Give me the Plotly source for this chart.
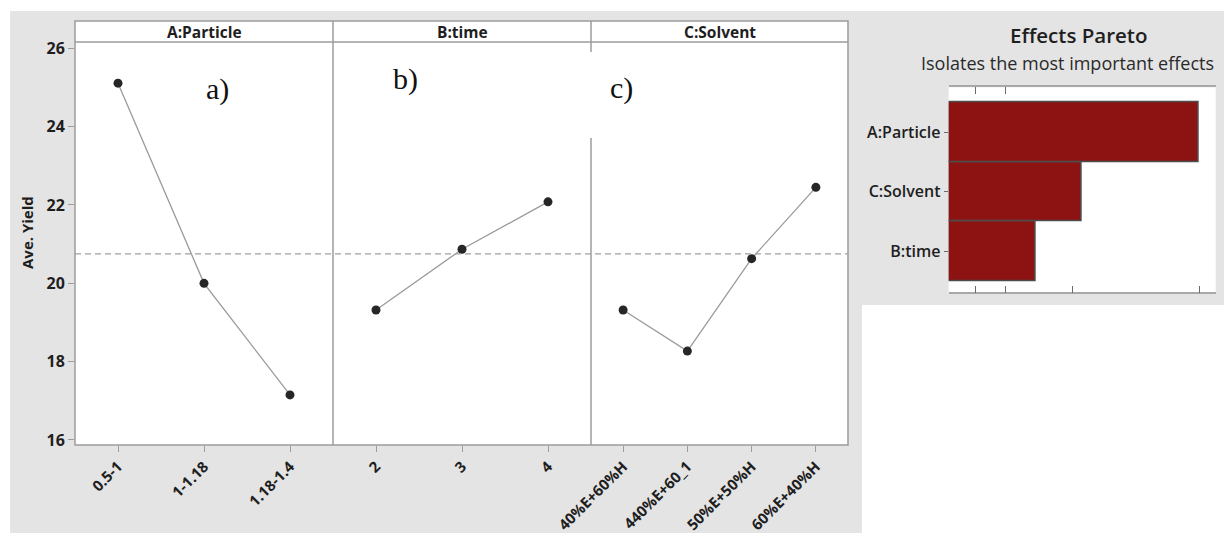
import plotly.graph_objects as go

# Main effects data (mean yield per factor level)
particle_levels = ["0.5-1", "1-1.18", "1.18-1.4"]
particle_yield = [25.11, 20.00, 17.15]
time_levels = ["2", "3", "4"]
time_yield = [19.32, 20.87, 22.08]
solvent_levels = ["40%E+60%H", "440%E+60_1", "50%E+50%H", "60%E+40%H"]
solvent_yield = [19.32, 18.27, 20.63, 22.45]
overall_mean = 20.75
y_ticks = [16, 18, 20, 22, 24, 26]
panel_titles = ["A:Particle", "B:time", "C:Solvent"]
panel_tags = ["a)", "b)", "c)"]

# Pareto of effects
pareto_terms = ["B:time", "C:Solvent", "A:Particle"]
pareto_effects = [3.26, 4.98, 9.37]
pareto_ticks = [1.02, 2.12, 4.64, 9.41]

W, H = 1224, 533


def px(x):
    return x / W


def py(y):
    return 1 - y / H


GRID = "#9c9c9c"
INK = "#1e1e1e"
BG = "#e4e4e4"
LABEL_FONT = dict(family="Open Sans", size=15, color=INK, weight="bold")

fig = go.Figure()

panels = [
    (particle_levels, particle_yield, "x", "y"),
    (time_levels, time_yield, "x2", "y2"),
    (solvent_levels, solvent_yield, "x3", "y3"),
]
for levels, values, xa, ya in panels:
    fig.add_trace(go.Scatter(
        x=list(range(len(levels))), y=values, xaxis=xa, yaxis=ya,
        mode="lines+markers",
        line=dict(color="#9a9a9a", width=1.3),
        marker=dict(size=9, color="#262626"),
        showlegend=False, hoverinfo="skip",
    ))

fig.add_trace(go.Bar(
    x=pareto_effects, y=pareto_terms, orientation="h",
    xaxis="x4", yaxis="y4",
    marker=dict(color="#8d1313", line=dict(color="#4d4d4d", width=1.5)),
    showlegend=False, hoverinfo="skip",
))
# invisible trace to carry the top tick marks of the pareto frame
fig.add_trace(go.Scatter(
    x=[pareto_ticks[0]], y=[pareto_terms[0]], xaxis="x5", yaxis="y4",
    mode="markers", marker=dict(opacity=0), showlegend=False, hoverinfo="skip",
))

left, right, top_hdr, hdr_bot, bottom = 75, 848, 21, 42, 445
dividers = [333, 591]
edges = [left] + dividers + [right]

y_range = [15.872, 26.161]

layout = dict(
    width=W, height=H,
    margin=dict(l=0, r=0, t=0, b=0, autoexpand=False),
    paper_bgcolor="white", plot_bgcolor="white",
    bargap=0,
)

for i, (levels, _, xa, ya) in enumerate(panels):
    xk = "xaxis" if i == 0 else f"xaxis{i + 1}"
    yk = "yaxis" if i == 0 else f"yaxis{i + 1}"
    layout[xk] = dict(
        domain=[px(edges[i]), px(edges[i + 1])],
        range=[-0.5, len(levels) - 0.5],
        tickmode="array", tickvals=list(range(len(levels))), ticktext=levels,
        tickangle=-45, ticks="outside", ticklen=6, tickcolor=GRID,
        tickfont=LABEL_FONT, showgrid=False, zeroline=False, showline=False,
        anchor=ya, fixedrange=True, automargin=False,
    )
    layout[yk] = dict(
        domain=[py(bottom), py(hdr_bot)], range=y_range,
        showgrid=False, zeroline=False, showline=False,
        anchor=xa, fixedrange=True, automargin=False,
        showticklabels=(i == 0),
        ticks="outside" if i == 0 else "",
        tickvals=y_ticks, ticklen=6, tickcolor=GRID,
        tickfont=dict(family="Open Sans", size=16, color=INK, weight="bold"),
    )

p_left, p_right, p_top, p_bot = 948.7, 1215.7, 87.3, 292.3
layout["xaxis4"] = dict(
    domain=[px(p_left), px(p_right)], range=[0, 10], anchor="y4",
    tickvals=pareto_ticks, showticklabels=False, ticks="inside", ticklen=7,
    tickcolor="#6a6a6a", showgrid=False, zeroline=False,
    showline=True, linecolor="#a8a8a8", linewidth=1.5, mirror=True,
    fixedrange=True, automargin=False,
)
layout["xaxis5"] = dict(
    overlaying="x4", side="top", range=[0, 10], anchor="y4",
    tickvals=pareto_ticks[:2], showticklabels=False, ticks="inside", ticklen=7,
    tickcolor="#6a6a6a", showgrid=False, zeroline=False, showline=False,
    fixedrange=True, automargin=False,
)
layout["yaxis4"] = dict(
    domain=[py(p_bot), py(p_top)], range=[-0.69, 2.76], anchor="x4",
    ticks="outside", ticklen=4, tickcolor="#6a6a6a",
    tickfont=dict(family="Open Sans", size=16, color=INK, weight=600),
    showgrid=False, zeroline=False, fixedrange=True, automargin=False,
    categoryorder="array", categoryarray=pareto_terms,
)

shapes = [
    # panel backgrounds
    dict(type="rect", xref="paper", yref="paper", layer="below",
         x0=px(10), x1=px(862), y0=py(533), y1=py(11),
         fillcolor=BG, line=dict(width=0)),
    dict(type="rect", xref="paper", yref="paper", layer="below",
         x0=px(862), x1=px(1224), y0=py(305), y1=py(11),
         fillcolor=BG, line=dict(width=0)),
    # white plotting areas (header strip included)
    dict(type="rect", xref="paper", yref="paper", layer="below",
         x0=px(left), x1=px(right), y0=py(bottom), y1=py(top_hdr),
         fillcolor="white", line=dict(width=0)),
    dict(type="rect", xref="paper", yref="paper", layer="below",
         x0=px(p_left), x1=px(p_right), y0=py(p_bot), y1=py(p_top),
         fillcolor="white", line=dict(width=0)),
]
frame = dict(color=GRID, width=1.5)
shapes += [
    dict(type="rect", xref="paper", yref="paper",
         x0=px(left), x1=px(right), y0=py(bottom), y1=py(top_hdr), line=frame),
    dict(type="line", xref="paper", yref="paper",
         x0=px(left), x1=px(right), y0=py(hdr_bot), y1=py(hdr_bot), line=frame),
    dict(type="line", xref="paper", yref="paper",
         x0=px(333), x1=px(333), y0=py(bottom), y1=py(top_hdr), line=frame),
    dict(type="line", xref="paper", yref="paper",
         x0=px(591), x1=px(591), y0=py(52), y1=py(top_hdr), line=frame),
    dict(type="line", xref="paper", yref="paper",
         x0=px(591), x1=px(591), y0=py(bottom), y1=py(138), line=frame),
]
# overall mean reference line across all panels
shapes.append(dict(type="line", xref="paper", yref="y",
                   x0=px(left), x1=px(right), y0=overall_mean, y1=overall_mean,
                   line=dict(color="#a0a0a0", width=1.3, dash="6px,4px")))
layout["shapes"] = shapes

annotations = []
for i, title in enumerate(panel_titles):
    annotations.append(dict(
        xref="paper", yref="paper",
        x=px((edges[i] + edges[i + 1]) / 2), y=py((top_hdr + hdr_bot) / 2),
        text=title, showarrow=False, xanchor="center", yanchor="middle",
        font=dict(family="Open Sans", size=15.5, color=INK, weight="bold"),
    ))
tag_pos = [(217, 89), (405, 79), (621, 88)]
for tag, (tx, ty) in zip(panel_tags, tag_pos):
    annotations.append(dict(
        xref="paper", yref="paper", x=px(tx), y=py(ty), text=tag,
        showarrow=False, xanchor="center", yanchor="middle",
        font=dict(family="Liberation Serif", size=30, color="#111111"),
    ))
annotations.append(dict(
    xref="paper", yref="paper", x=px(27), y=py(233), text="Ave. Yield",
    textangle=-90, showarrow=False, xanchor="center", yanchor="middle",
    font=dict(family="Open Sans", size=15, color=INK, weight="bold"),
))
annotations.append(dict(
    xref="paper", yref="paper", x=px(1078), y=py(35), text="Effects Pareto",
    showarrow=False, xanchor="center", yanchor="middle",
    font=dict(family="Open Sans", size=20.5, color=INK, weight=600),
))
annotations.append(dict(
    xref="paper", yref="paper", x=px(919), y=py(63),
    text="Isolates the most important effects",
    showarrow=False, xanchor="left", yanchor="middle",
    font=dict(family="Open Sans", size=18, color="#2a2a2a"),
))
layout["annotations"] = annotations

fig.update_layout(**layout)
fig.write_html("out.html")
